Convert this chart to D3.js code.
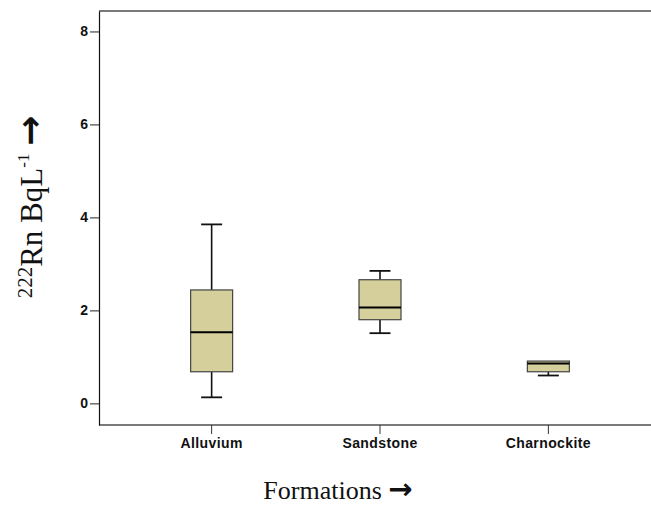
<!DOCTYPE html>
<html>
<head>
<meta charset="utf-8">
<script src="https://cdn.jsdelivr.net/npm/d3@7"></script>
<style>
  html, body { margin: 0; padding: 0; background: #fff; }
  svg { display: block; }
</style>
</head>
<body>
<svg id="chart" width="651" height="507"></svg>
<script>
// ---- data ----
const categories = ["Alluvium", "Sandstone", "Charnockite"];
const mins    = [0.13, 1.51, 0.60];
const q1s     = [0.68, 1.80, 0.68];
const medians = [1.53, 2.06, 0.86];
const q3s     = [2.44, 2.66, 0.91];
const maxs    = [3.85, 2.85, 0.91];
const yTicks  = [0, 2, 4, 6, 8];

(function () {
const svg = d3.select("#chart");
const pLeft = 99, pTop = 11, pBottom = 425, pRight = 661;

const x = d3.scaleBand().domain(categories).range([pLeft, pRight])
  .paddingInner(0).paddingOuter(0.169);
const y = d3.scaleLinear().domain([-0.465, 8.44]).range([pBottom, pTop]);

const boxW = 42, capW = 21;
const fill = "#d4cf9b";

// frame lines
svg.append("line").attr("x1", pLeft).attr("x2", 651).attr("y1", pTop).attr("y2", pTop)
  .attr("stroke", "#7a7a7a").attr("stroke-width", 2);
svg.append("line").attr("x1", pLeft).attr("x2", 651).attr("y1", pBottom).attr("y2", pBottom)
  .attr("stroke", "#7a7a7a").attr("stroke-width", 2);

// y axis
const yAxis = svg.append("g").attr("transform", `translate(${pLeft},0)`)
  .call(d3.axisLeft(y).tickValues(yTicks).tickSize(9).tickPadding(2).tickSizeOuter(0));
yAxis.select(".domain").attr("stroke", "#111").attr("stroke-width", 1.2);
yAxis.selectAll(".tick line").attr("stroke", "#222");
yAxis.selectAll(".tick text").attr("font-family", "'Liberation Sans', Arial, sans-serif")
  .attr("font-weight", "bold").attr("font-size", 14).attr("fill", "#111");

// x axis
const xAxis = svg.append("g").attr("transform", `translate(0,${pBottom})`)
  .call(d3.axisBottom(x).tickSize(9).tickPadding(4).tickSizeOuter(0));
xAxis.select(".domain").remove();
xAxis.selectAll(".tick line").attr("stroke", "#333");
xAxis.selectAll(".tick text").attr("font-family", "'Liberation Sans', Arial, sans-serif")
  .attr("font-weight", "bold").attr("font-size", 14).attr("letter-spacing", "0.4px")
  .attr("fill", "#111");

// boxes
const g = svg.append("g");
categories.forEach((c, i) => {
  const cx = x(c) + x.bandwidth() / 2;
  g.append("line").attr("x1", cx).attr("x2", cx).attr("y1", y(q3s[i])).attr("y2", y(maxs[i]))
    .attr("stroke", "#111").attr("stroke-width", 1.6);
  g.append("line").attr("x1", cx).attr("x2", cx).attr("y1", y(q1s[i])).attr("y2", y(mins[i]))
    .attr("stroke", "#111").attr("stroke-width", 1.6);
  if (maxs[i] > q3s[i]) {
    g.append("line").attr("x1", cx - capW / 2).attr("x2", cx + capW / 2)
      .attr("y1", y(maxs[i])).attr("y2", y(maxs[i])).attr("stroke", "#111").attr("stroke-width", 1.8);
  }
  g.append("line").attr("x1", cx - capW / 2).attr("x2", cx + capW / 2)
    .attr("y1", y(mins[i])).attr("y2", y(mins[i])).attr("stroke", "#111").attr("stroke-width", 1.8);
  g.append("rect").attr("x", cx - boxW / 2).attr("width", boxW)
    .attr("y", y(q3s[i])).attr("height", y(q1s[i]) - y(q3s[i]))
    .attr("fill", fill).attr("stroke", "#444").attr("stroke-width", 1.2);
  g.append("line").attr("x1", cx - boxW / 2).attr("x2", cx + boxW / 2)
    .attr("y1", y(medians[i])).attr("y2", y(medians[i]))
    .attr("stroke", "#000").attr("stroke-width", 2);
});

// x label
const xl = svg.append("text").attr("x", 338).attr("y", 499).attr("text-anchor", "middle")
  .attr("font-family", "'Liberation Serif', 'Times New Roman', serif").attr("font-size", 26)
  .attr("fill", "#111");
xl.append("tspan").text("Formations ");
xl.append("tspan").attr("font-family", "'DejaVu Sans', sans-serif").attr("font-weight", "bold")
  .attr("font-size", 29).text("→");

// y label
const yl = svg.append("text").attr("transform", "translate(42,207) rotate(-90)")
  .attr("text-anchor", "middle")
  .attr("font-family", "'Liberation Serif', 'Times New Roman', serif").attr("font-size", 31)
  .attr("fill", "#111");
yl.append("tspan").attr("font-size", 21).attr("dy", -10).text("222");
yl.append("tspan").attr("dy", 10).text("Rn Bq");
yl.append("tspan").text("L");
yl.append("tspan").attr("font-size", 17).attr("dy", -13).text("-1");
yl.append("tspan").attr("dy", 13).text(" ");
yl.append("tspan").attr("font-family", "'DejaVu Sans', sans-serif").attr("font-weight", "bold")
  .attr("font-size", 36).attr("dy", 0).text("→");
})();
</script>
</body>
</html>
